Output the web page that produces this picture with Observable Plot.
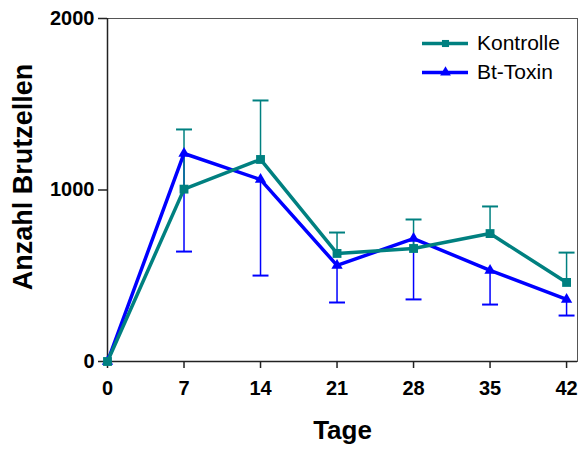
<!DOCTYPE html>
<html>
<head>
<meta charset="utf-8">
<script src="https://cdn.jsdelivr.net/npm/d3@7"></script>
<script src="https://cdn.jsdelivr.net/npm/@observablehq/plot@0.6"></script>
<style>
  body { margin: 0; background: #fff; }
  #wrap { position: relative; width: 583px; height: 450px; font-family: "Liberation Sans", Arial, sans-serif; }
  #legend { position: absolute; left: 420px; top: 28px; }
  .item { display: flex; align-items: center; height: 29px; font-size: 21px; color: #000; }
  .item svg { margin-right: 7px; }
</style>
</head>
<body>
<div id="wrap"><div id="legend"></div></div>
<script>
const days = [0, 7, 14, 21, 28, 35, 42];
const xTicks = [0, 7, 14, 21, 28, 35, 42];
const yTicks = [0, 1000, 2000];
const kontrolle = [0, 1005, 1178, 630, 659, 746, 461];
const kontrolleErr = [0, 348, 344, 122, 169, 158, 174];   // upward bars
const btToxin = [0, 1213, 1061, 560, 717, 531, 362];
const btToxinErr = [0, 572, 560, 216, 355, 199, 94];      // downward bars
const seriesNames = ["Kontrolle", "Bt-Toxin"];
const colors = ["#008080", "#0000ff"];

const kData = days.map((d, i) => ({day: d, v: kontrolle[i], lo: kontrolle[i], hi: kontrolle[i] + kontrolleErr[i], err: kontrolleErr[i]}));
const bData = days.map((d, i) => ({day: d, v: btToxin[i], lo: btToxin[i] - btToxinErr[i], hi: btToxin[i], err: btToxinErr[i]}));

const cap = {draw(ctx, size) { const w = Math.sqrt(size); ctx.moveTo(-w, 0); ctx.lineTo(w, 0); }};
const font = "Liberation Sans, Arial, sans-serif";

const chart = Plot.plot({
  width: 583, height: 450,
  marginLeft: 107, marginRight: 6, marginTop: 18, marginBottom: 89,
  style: {fontFamily: font, fontSize: "20px", fontWeight: "bold", color: "#000", background: "transparent"},
  x: {domain: [0, 43], axis: null},
  y: {domain: [0, 2000], axis: null},
  marks: [
    Plot.frame({stroke: "#555", strokeWidth: 1}),
    Plot.axisX(xTicks, {tickSize: 7, tickPadding: 12, stroke: "#222", strokeWidth: 1.5, fontSize: 20, fontWeight: "bold", label: null, tickFormat: d => String(d)}),
    Plot.axisY(yTicks, {tickSize: 9, tickPadding: 4, stroke: "#222", strokeWidth: 1.5, fontSize: 20, fontWeight: "bold", label: null, tickFormat: d => String(d)}),
    Plot.ruleX([0], {stroke: "#222", strokeWidth: 1.5}),
    Plot.ruleY([0], {stroke: "#222", strokeWidth: 1.5}),
    // error bars
    Plot.ruleX(bData.filter(d => d.err > 0), {x: "day", y1: "lo", y2: "hi", stroke: colors[1], strokeWidth: 1.5}),
    Plot.dot(bData.filter(d => d.err > 0), {x: "day", y: "lo", symbol: cap, r: 4.5, stroke: colors[1], strokeWidth: 2}),
    Plot.ruleX(kData.filter(d => d.err > 0), {x: "day", y1: "lo", y2: "hi", stroke: colors[0], strokeWidth: 1.5}),
    Plot.dot(kData.filter(d => d.err > 0), {x: "day", y: "hi", symbol: cap, r: 4.5, stroke: colors[0], strokeWidth: 2}),
    // lines
    Plot.line(bData, {x: "day", y: "v", stroke: colors[1], strokeWidth: 3.5}),
    Plot.dot(bData, {x: "day", y: "v", symbol: "triangle", r: 4.2, fill: colors[1], stroke: "none"}),
    Plot.line(kData, {x: "day", y: "v", stroke: colors[0], strokeWidth: 3.5}),
    Plot.dot(kData, {x: "day", y: "v", symbol: "square", r: 5, fill: colors[0], stroke: "none"}),
    // axis titles
    Plot.text(["Tage"], {frameAnchor: "bottom", dy: 77, fontSize: 26, fontWeight: "bold", fill: "#000"}),
    Plot.text(["Anzahl Brutzellen"], {frameAnchor: "left", textAnchor: "middle", dx: -84, dy: -13, rotate: -90, fontSize: 27, fontWeight: "bold", fill: "#000"})
  ]
});
document.getElementById("wrap").prepend(chart);

// legend
const legend = document.getElementById("legend");
const syms = ["square", "triangle"];
seriesNames.forEach((name, i) => {
  const item = document.createElement("div");
  item.className = "item";
  const s = Plot.plot({
    width: 50, height: 14, margin: 0,
    x: {domain: [0, 1], axis: null}, y: {domain: [0, 1], axis: null},
    style: {background: "transparent"},
    marks: [
      Plot.ruleY([0.5], {stroke: colors[i], strokeWidth: 3.5, insetLeft: 2, insetRight: 2}),
      Plot.dot([{x: 0.5, y: 0.5}], {x: "x", y: "y", symbol: syms[i], r: 4, fill: colors[i]})
    ]
  });
  item.appendChild(s);
  const t = document.createElement("span");
  t.textContent = name;
  item.appendChild(t);
  legend.appendChild(item);
});
</script>
</body>
</html>
